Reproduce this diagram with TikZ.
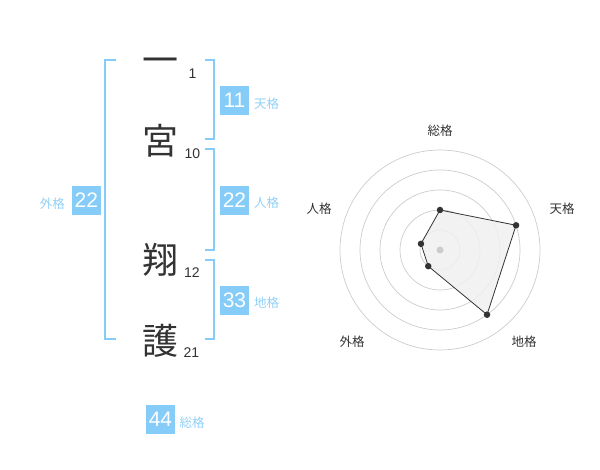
\documentclass[tikz,border=0pt]{standalone}
\usepackage{fontspec}
\setmainfont{Liberation Sans}
\newfontfamily\cjk{Noto Sans CJK JP}
\usetikzlibrary{calc}
\definecolor{bl}{HTML}{85CCF8}
\definecolor{bltext}{HTML}{8FD0F8}
\definecolor{dk}{HTML}{333333}
\definecolor{ring}{HTML}{CCCCCC}
\definecolor{polyfill}{HTML}{F0F0F0}
\tikzset{
  bigchar/.style={font=\cjk\fontsize{36}{36}\selectfont, text=dk, inner sep=0pt},
  strokenum/.style={font=\fontsize{14}{14}\selectfont, text=dk, inner sep=0pt},
  valbox/.style={fill=bl, text=white, minimum width=29pt, minimum height=29pt, inner sep=0pt, font=\fontsize{21}{21}\selectfont},
  kaku/.style={font=\cjk\fontsize{12.5}{12.5}\selectfont, text=bltext, inner sep=0pt},
  bracket/.style={draw=bl, line width=1.8pt},
  radarlab/.style={font=\cjk\fontsize{12.5}{12.5}\selectfont, text=dk, inner sep=0pt},
  ringline/.style={draw=ring, line width=0.7pt},
  dot/.style={circle, fill=dk, inner sep=0pt, minimum size=6.5pt},
}
\begin{document}
\begin{tikzpicture}[x=1pt,y=-1pt]
\useasboundingbox (0,0) rectangle (600,470);
% characters
\node[bigchar] (c1) at (160,66) {一};
\node[bigchar] (c2) at (160,141) {宮};
\node[bigchar] (c3) at (160,260) {翔};
\node[bigchar] (c4) at (160,341) {護};
\node[strokenum] (n1) at (192.5,73.5) {1};
\node[strokenum] (n2) at (192.5,153.5) {10};
\node[strokenum] (n3) at (192,272.5) {12};
\node[strokenum] (n4) at (191.5,353) {21};
% brackets
\draw[bracket] (115.7,60) -- (105,60) -- (105,339.3) -- (115.7,339.3);
\draw[bracket] (205,60) -- (214.3,60) -- (214.3,139.3) -- (205,139.3);
\draw[bracket] (205,149.3) -- (214.3,149.3) -- (214.3,250) -- (205,250);
\draw[bracket] (205,260) -- (214.3,260) -- (214.3,339.3) -- (205,339.3);
% value boxes
\node[valbox] (ten) at (234.5,100.3) {11};
\node[kaku, anchor=west] (tenl) at (254,104) {天格};
\node[valbox] (jin) at (234.5,200.3) {22};
\node[kaku, anchor=west] (jinl) at (254,203) {人格};
\node[valbox] (chi) at (234.5,300.5) {33};
\node[kaku, anchor=west] (chil) at (254,303) {地格};
\node[valbox] (gai) at (86.3,200.3) {22};
\node[kaku, anchor=east] (gail) at (65,204) {外格};
\node[valbox] (sou) at (160.5,419.5) {44};
\node[kaku, anchor=west] (soul) at (179.5,422.7) {総格};
% radar
\coordinate (c) at (440,250);
\foreach \r in {20,40,60,80,100}
  \draw[ringline] (c) circle[radius=\r pt];
\coordinate (pS) at ($(c)+(-90:40)$);
\coordinate (pT) at ($(c)+(-18:80)$);
\coordinate (pC) at ($(c)+(54:80)$);
\coordinate (pG) at ($(c)+(126:20)$);
\coordinate (pJ) at ($(c)+(-162:20)$);
\fill[polyfill, fill opacity=0.85] (pS) -- (pT) -- (pC) -- (pG) -- (pJ) -- cycle;
\fill[ring] (c) circle[radius=3.5pt];
\draw[dk, line width=0.8pt] (pS) -- (pT) -- (pC) -- (pG) -- (pJ) -- cycle;
\foreach \p in {pS,pT,pC,pG,pJ}
  \node[dot] at (\p) {};
\node[radarlab] (lS) at (440,130.5) {総格};
\node[radarlab] (lT) at (562,209) {天格};
\node[radarlab] (lC) at (524,342) {地格};
\node[radarlab] (lG) at (352,342) {外格};
\node[radarlab] (lJ) at (319,209) {人格};
\end{tikzpicture}
\end{document}
